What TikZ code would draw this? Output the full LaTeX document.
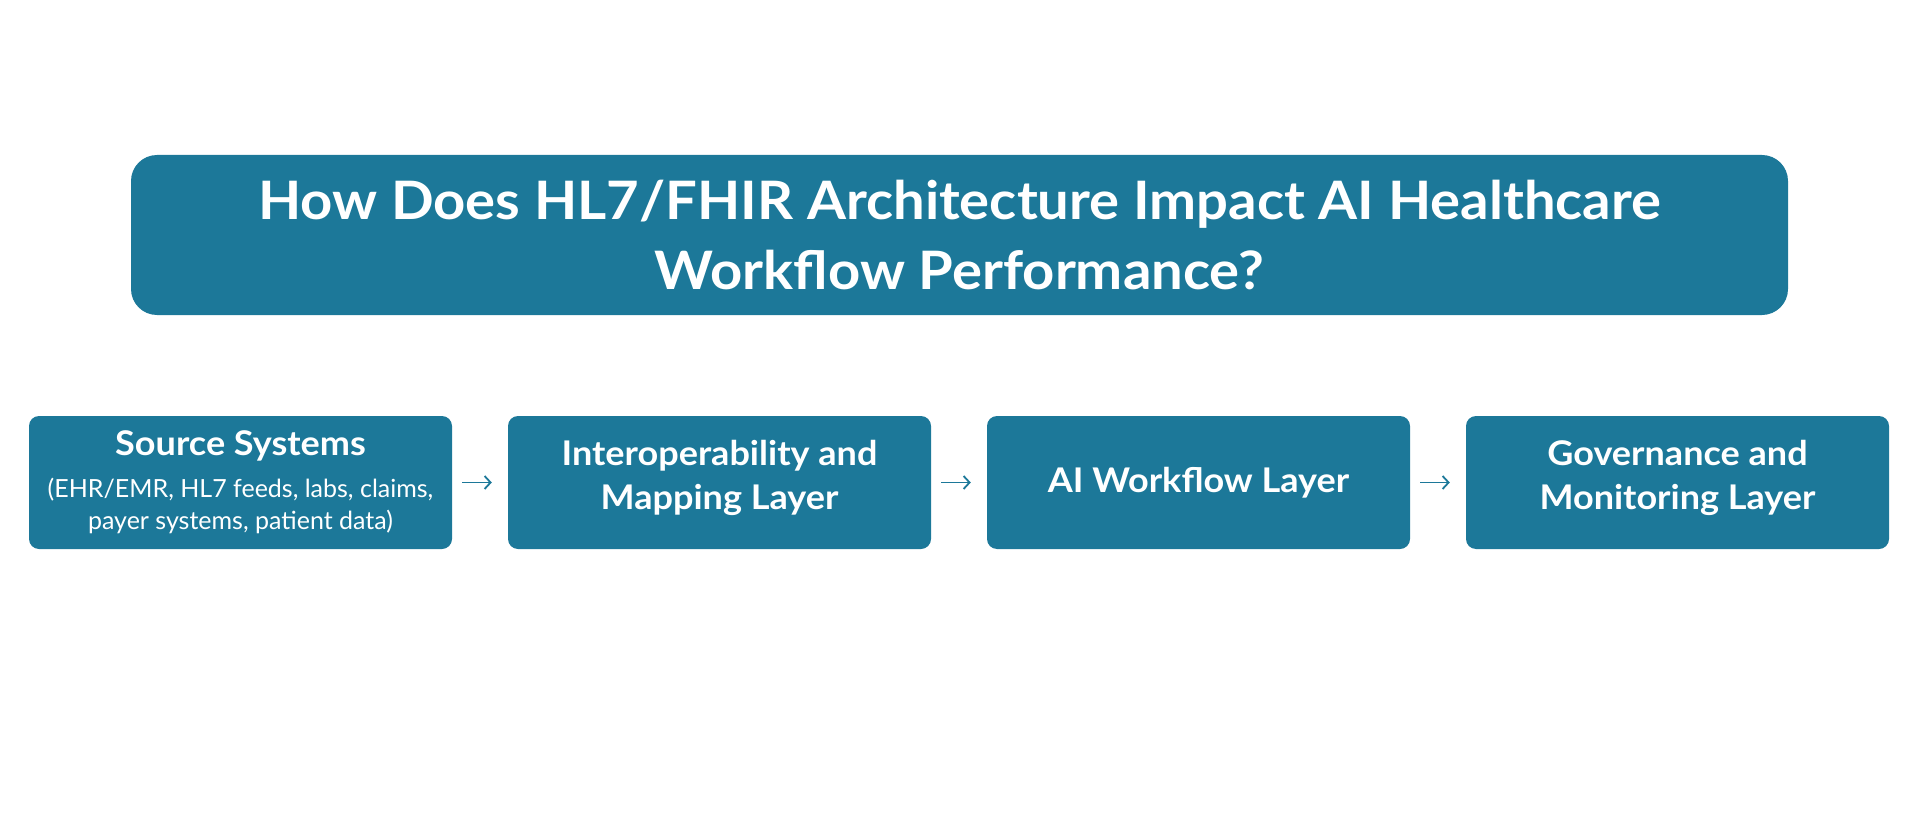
\documentclass[tikz,border=0pt]{standalone}
\usepackage{fontspec}
\setmainfont{Lato}
\newfontfamily\headfont{Lato}[FakeStretch=1.06]
\usetikzlibrary{arrows.meta}
\definecolor{teal}{HTML}{1C7899}
\tikzset{
  titlebox/.style={fill=teal, draw=none, rounded corners=26pt, minimum width=1657pt, minimum height=160pt,
    text=white, align=center, inner sep=0pt, font=\headfont\bfseries\fontsize{53}{70}\selectfont},
  layerbox/.style={fill=teal, draw=none, rounded corners=10pt, minimum width=423pt, minimum height=133pt,
    text=white, align=center, inner sep=0pt, font=\headfont\bfseries\fontsize{34}{44}\selectfont},
  srcbox/.style={layerbox, font=\fontsize{25}{32}\selectfont},
  flow/.style={draw=teal, line width=1.8pt, -{Straight Barb[length=6pt,width=13pt,line width=1.8pt]},
    shorten <=10pt, shorten >=16pt}
}
\begin{document}
\begin{tikzpicture}[x=1pt,y=-1pt]
\useasboundingbox (0,0) rectangle (1920,832);
\node[titlebox] (title) at (959.5,235) {How Does HL7/FHIR Architecture Impact AI Healthcare\\Workflow Performance?};
\node[srcbox] (src) at (240.5,482.5) {{\headfont\bfseries\fontsize{34}{44}\selectfont Source Systems}\\[10pt](EHR/EMR, HL7 feeds, labs, claims,\\payer systems, patient data)};
\node[layerbox] (int) at (719.5,482.5) {Interoperability and\\Mapping Layer\\[-28pt]};
\node[layerbox] (ai) at (1198.5,482.5) {AI Workflow Layer};
\node[layerbox] (gov) at (1677.5,482.5) {Governance and\\Monitoring Layer\\[-28pt]};
\draw[flow] (src) -- (int);
\draw[flow] (int) -- (ai);
\draw[flow] (ai) -- (gov);
\end{tikzpicture}
\end{document}
